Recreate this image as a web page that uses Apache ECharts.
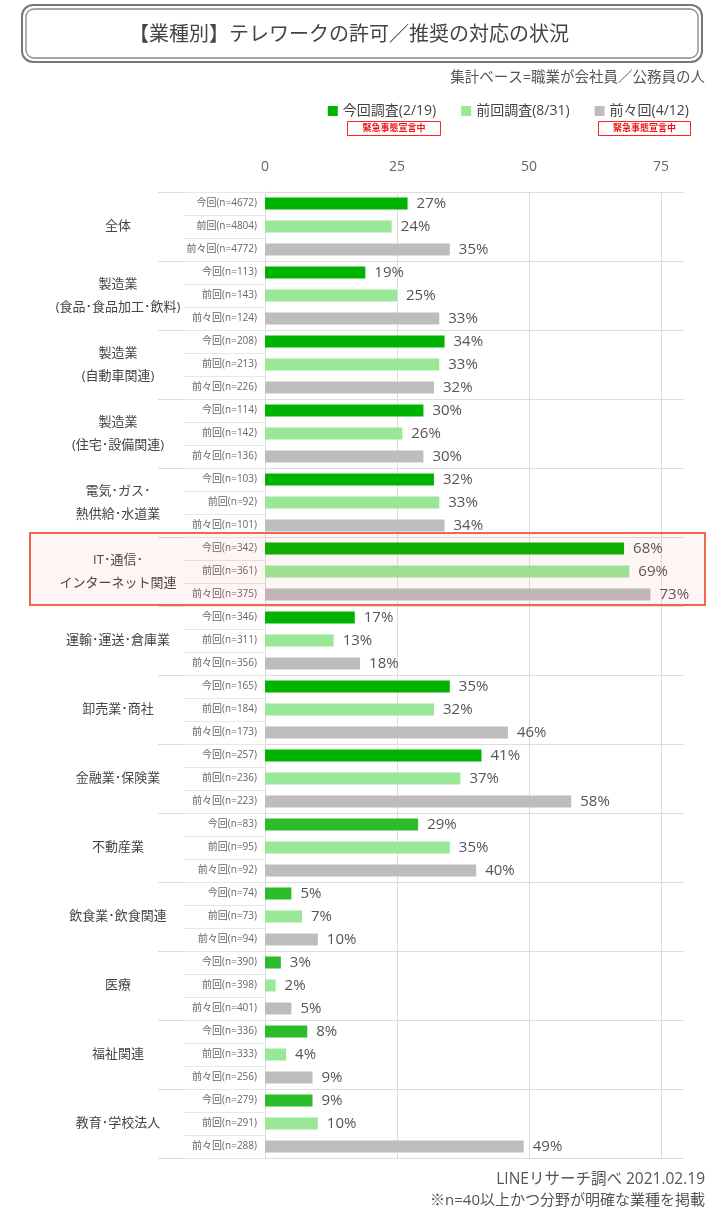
<!DOCTYPE html>
<html>
<head>
<meta charset="utf-8">
<script src="https://cdn.jsdelivr.net/npm/echarts@6/dist/echarts.min.js"></script>
<style>html,body{margin:0;padding:0;background:#fff;}#c{width:720px;height:1213px;}</style>
</head>
<body>
<div id="c"></div>
<script>
const groups = ['全体','製造業\n(食品･食品加工･飲料)','製造業\n(自動車関連)','製造業\n(住宅･設備関連)','電気･ガス･\n熱供給･水道業','IT･通信･\nインターネット関連','運輸･運送･倉庫業','卸売業･商社','金融業･保険業','不動産業','飲食業･飲食関連','医療','福祉関連','教育･学校法人'];
const seriesNames = ['今回調査(2/19)','前回調査(8/31)','前々回(4/12)'];
const rowPrefixes = ['今回','前回','前々回'];
const nNow  = [4672,113,208,114,103,342,346,165,257,83,74,390,336,279];
const nPrev = [4804,143,213,142,92,361,311,184,236,95,73,398,333,291];
const nPrev2= [4772,124,226,136,101,375,356,173,223,92,94,401,256,288];
const valNow  = [27,19,34,30,32,68,17,35,41,29,5,3,8,9];
const valPrev = [24,25,33,26,33,69,13,32,37,35,7,2,4,10];
const valPrev2= [35,33,32,30,34,73,18,46,58,40,10,5,9,49];
const xTicks = [0,25,50,75];
const highlightGroup = 'IT･通信･\nインターネット関連';

const nAll = [nNow,nPrev,nPrev2];
const vAll = [valNow,valPrev,valPrev2];
const rows = [];
groups.forEach((g,gi)=>{ for(let k=0;k<3;k++) rows.push(rowPrefixes[k]+'(n='+nAll[k][gi]+')'); });
function seriesData(k){
  const d=[];
  groups.forEach((g,gi)=>{ for(let j=0;j<3;j++) d.push(j===k? vAll[k][gi] : '-'); });
  return d;
}
const colors = ['#00b300','#98e898','#bdbdbd'];
const FONT = "'Open Sans','Noto Sans CJK JP',sans-serif";

const chart = echarts.init(document.getElementById('c'));
function txt(id,x,y,text,font,fill,align){
  return {id:id,type:'text',style:{x:x,y:y,text:text,font:font,fill:fill,align:align,verticalAlign:'middle',textAlign:align,textVerticalAlign:'middle'}};
}
function baseGraphics(){
  return [
    {id:'tb1',type:'rect',shape:{x:22,y:5,width:680,height:57,r:11},style:{fill:'none',stroke:'#777',lineWidth:2}},
    {id:'tb2',type:'rect',shape:{x:26,y:9,width:672,height:49,r:8},style:{fill:'none',stroke:'#888',lineWidth:1.3}},
    txt('tt',349,35,'【業種別】テレワークの許可／推奨の対応の状況','20px '+FONT,'#444','center'),
    txt('st',705,78,'集計ベース=職業が会社員／公務員の人','14.5px '+FONT,'#555','right'),
    {id:'r1',type:'rect',shape:{x:347.5,y:121.5,width:93,height:14},style:{fill:'#fff',stroke:'#ff2020',lineWidth:1}},
    txt('r1t',394,128.5,'緊急事態宣言中','bold 9px '+FONT,'#ee1111','center'),
    {id:'r2',type:'rect',shape:{x:598.5,y:121.5,width:92,height:14},style:{fill:'#fff',stroke:'#ff2020',lineWidth:1}},
    txt('r2t',644.5,128.5,'緊急事態宣言中','bold 9px '+FONT,'#ee1111','center'),
    txt('f1',705,1180,'LINEリサーチ調べ 2021.02.19','15.5px '+FONT,'#555','right'),
    txt('f2',705,1201,'※n=40以上かつ分野が明確な業種を掲載','15px '+FONT,'#555','right')
  ];
}
const option = {
  animation:false,
  textStyle:{fontFamily:FONT},
  legend:{right:26,top:99,icon:'rect',itemWidth:10,itemHeight:10,itemGap:25,textStyle:{fontSize:14,color:'#444'},
    data:seriesNames.map((n,k)=>({name:n,itemStyle:{color:colors[k]}}))},
  grid:[
    {left:265,top:192,width:419.8,height:966},
    {left:158,top:192,width:526,height:966},
    {left:184,top:192,width:81,height:966}
  ],
  xAxis:[
    {gridIndex:0,type:'value',position:'top',min:0,max:79.5,interval:25,
     axisLabel:{fontSize:14,color:'#666',margin:18,showMaxLabel:false,formatter:v=>xTicks.indexOf(v)>=0?String(v):''},
     axisLine:{show:false},axisTick:{show:false},
     splitLine:{show:true,showMinLine:false,showMaxLine:false,lineStyle:{color:'#dcdcdc'}}},
    {gridIndex:1,type:'value',show:false},
    {gridIndex:2,type:'value',show:false}
  ],
  yAxis:[
    {gridIndex:0,type:'category',data:rows,inverse:true,axisLine:{show:true,lineStyle:{color:'#dcdcdc'}},axisTick:{show:false},
     axisLabel:{fontSize:10,color:'#666',margin:8,interval:0},splitLine:{show:false}},
    {gridIndex:1,type:'category',data:groups,inverse:true,axisLine:{show:false},axisTick:{show:false},
     axisLabel:{fontSize:13,color:'#444',align:'center',margin:40,lineHeight:23,interval:0},
     splitLine:{show:true,interval:0,lineStyle:{color:'#dcdcdc'}}},
    {gridIndex:2,type:'category',data:rows,inverse:true,axisLine:{show:false},axisTick:{show:false},axisLabel:{show:false},
     splitLine:{show:true,interval:0,lineStyle:{color:'#e8e8e8'}}}
  ],
  series:[0,1,2].map(k=>({
    name:seriesNames[k],type:'bar',xAxisIndex:0,yAxisIndex:0,data:seriesData(k),
    barWidth:12,barGap:'-100%',
    itemStyle:{color: k===0 ? (p=>p.dataIndex>=27?'#2bbd2b':'#00b300') : colors[k]},
    label:{show:true,position:'right',distance:9,formatter:'{c}%',fontSize:15,color:'#555'}
  })),
  graphic:baseGraphics()
};
chart.setOption(option);

// highlight box around the IT group, positioned from the axis
const hgi = groups.indexOf(highlightGroup);
const c0 = chart.convertToPixel({yAxisIndex:0}, 3*hgi);
const c2 = chart.convertToPixel({yAxisIndex:0}, 3*hgi+2);
const rh = (c2-c0)/2;
const boxTop = c0 - rh/2 - 4, boxBottom = c2 + rh/2 - 1;
const gfx = baseGraphics();
gfx.push({id:'hl',type:'rect',z:100,silent:true,shape:{x:30,y:boxTop,width:675,height:boxBottom-boxTop},
  style:{fill:'rgba(238,105,72,0.06)',stroke:'#f0674d',lineWidth:2}});
chart.setOption({graphic:gfx});
</script>
</body>
</html>
